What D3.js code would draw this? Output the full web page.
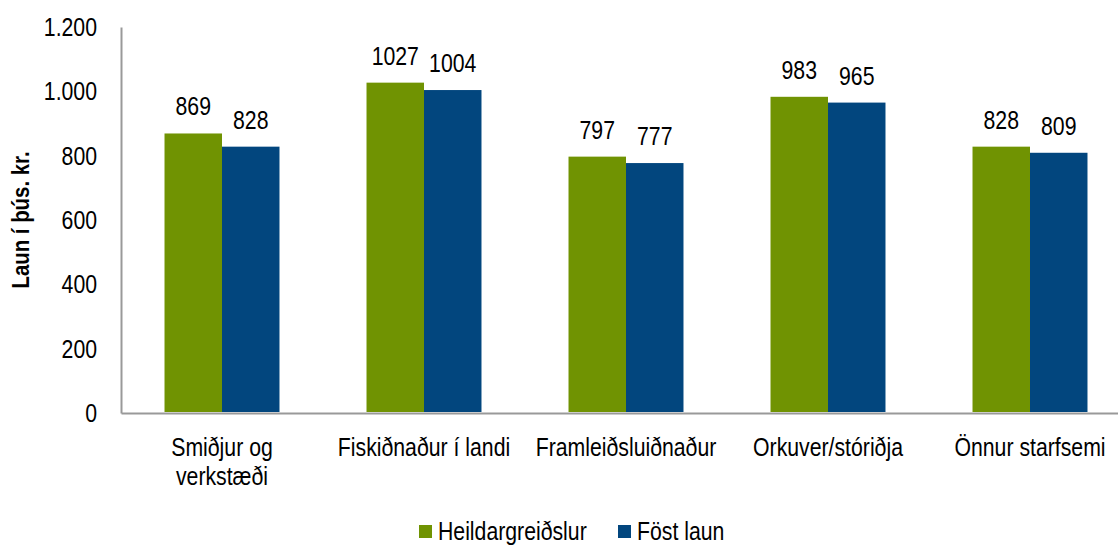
<!DOCTYPE html>
<html>
<head>
<meta charset="utf-8">
<script src="https://cdn.jsdelivr.net/npm/d3@7"></script>
<style>
  body { margin: 0; background: #fff; }
  svg text { font-family: "Liberation Sans", Arial, sans-serif; fill: #000; }
</style>
</head>
<body>
<svg id="chart" width="1118" height="546"></svg>
<script>
const categories = ["Smiðjur og\nverkstæði", "Fiskiðnaður í landi", "Framleiðsluiðnaður", "Orkuver/stóriðja", "Önnur starfsemi"];
const seriesNames = ["Heildargreiðslur", "Föst laun"];
const heildar = [869, 1027, 797, 983, 828];
const fost = [828, 1004, 777, 965, 809];
const yTicks = [0, 200, 400, 600, 800, 1000, 1200];
const colors = ["#709302", "#02467e"];
const seriesValues = [heildar, fost];

const svg = d3.select("#chart");
const x0 = 121, x1 = 1131, yTop = 27, yBot = 413;
const FS = 25, SX = 0.85;

const x = d3.scaleBand().domain(categories).range([x0, x1]).padding(0);
const xi = d3.scaleBand().domain(seriesNames).range([0, x.bandwidth()]).paddingInner(0).paddingOuter(0.757);
const y = d3.scaleLinear().domain([0, 1200]).range([yBot, yTop]);

const fmt = v => d3.format(",")(v).replace(/,/g, ".");

function label(parent, tx, ty, txt, anchor, opts = {}) {
  const t = parent.append("text")
    .attr("transform", `translate(${tx},${ty})${opts.rotate ? " rotate(" + opts.rotate + ")" : ""} scale(${SX},1)`)
    .attr("text-anchor", anchor)
    .attr("font-size", opts.size || FS)
    .text(txt);
  if (opts.bold) t.attr("font-weight", "bold");
  return t;
}

// Axes
const yAxis = d3.axisLeft(y).tickValues(yTicks).tickSize(0).tickFormat("");
const gy = svg.append("g").attr("transform", `translate(${x0},0)`).call(yAxis);
gy.select(".domain").attr("stroke", "#999").attr("stroke-width", 2);

const xAxis = d3.axisBottom(x).tickSize(0).tickFormat("");
const gx = svg.append("g").attr("transform", `translate(0,${yBot})`).call(xAxis);
gx.select(".domain").attr("stroke", "#999").attr("stroke-width", 2);

// Y tick labels
yTicks.forEach(v => label(svg, 97, y(v) + 9, fmt(v), "end"));

// Bars
categories.forEach((c, ci) => {
  seriesNames.forEach((s, si) => {
    const v = seriesValues[si][ci];
    svg.append("rect")
      .attr("x", x(c) + xi(s))
      .attr("y", y(v))
      .attr("width", xi.bandwidth())
      .attr("height", y(0) - y(v) - 1)
      .attr("fill", colors[si]);
    label(svg, x(c) + xi(s) + xi.bandwidth() / 2, y(v) - 18, v, "middle");
  });
});

// Category labels
categories.forEach(c => {
  const cx = x(c) + x.bandwidth() / 2;
  c.split("\n").forEach((l, i) => label(svg, cx, 456 + i * 29, l, "middle"));
});

// Y label
label(svg, 29, 220, "Laun í þús. kr.", "middle", { rotate: -90, bold: true, size: 24 });

// Legend
const legendX = [419, 618];
seriesNames.forEach((s, i) => {
  svg.append("rect").attr("x", legendX[i]).attr("y", 525).attr("width", 13).attr("height", 13).attr("fill", colors[i]);
  label(svg, legendX[i] + 19, 540, s, "start");
});
</script>
</body>
</html>
